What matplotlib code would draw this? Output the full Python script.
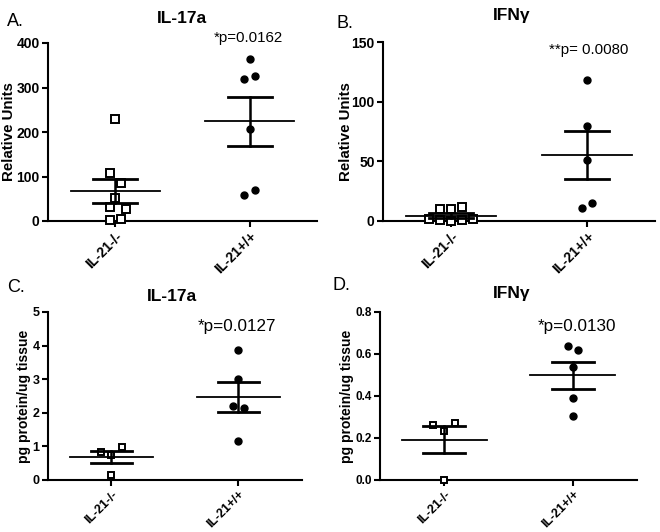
import numpy as np
import matplotlib
matplotlib.use("Agg")
import matplotlib.pyplot as plt

plt.rcParams['font.family'] = ['Liberation Sans', 'DejaVu Sans']

groups = ["IL-21-/-", "IL-21+/+"]

# Panel A: IL-17a, Relative Units
a_ko = [229, 107, 85, 52, 31, 27, 2, 4.5]
a_wt = [364, 320, 326, 206, 58, 70]
# Panel B: IFNγ, Relative Units
b_ko = [10, 10, 12, 1.5, 0.6, 0.3, 0.8, 1.5]
b_wt = [118, 80, 51.5, 10.5, 15.5]
# Panel C: IL-17a, pg protein/ug tissue
c_ko = [0.82, 0.74, 0.98, 0.15]
c_wt = [3.87, 3.0, 2.2, 2.15, 1.16]
# Panel D: IFNγ, pg protein/ug tissue
d_ko = [0.262, 0.235, 0.27, 0.0]
d_wt = [0.64, 0.619, 0.537, 0.389, 0.306]

# horizontal scatter offsets (jitter) per point
a_ko_dx = [0, -0.037, 0.042, 0, -0.037, 0.082, -0.037, 0.042]
a_wt_dx = [0, -0.04, 0.042, 0, -0.04, 0.042]
b_ko_dx = [-0.08, 0.0, 0.08, -0.16, -0.08, 0.0, 0.08, 0.16]
b_wt_dx = [0, 0, 0, -0.04, 0.04]
c_ko_dx = [-0.08, 0.0, 0.085, 0.0]
c_wt_dx = [0, 0, -0.04, 0.04, 0]
d_ko_dx = [-0.085, 0.0, 0.084, 0.0]
d_wt_dx = [-0.04, 0.04, 0, 0, 0]

titles = ["IL-17a", "IFNγ", "IL-17a", "IFNγ"]
letters = ["A.", "B.", "C.", "D."]
ylabels = ["Relative Units", "Relative Units", "pg protein/ug tissue", "pg protein/ug tissue"]
pvals = ["*p=0.0162", "**p= 0.0080", "*p=0.0127", "*p=0.0130"]
ylims = [(0, 400), (0, 150), (0, 5), (0, 0.8)]
yticks = [[0, 100, 200, 300, 400], [0, 50, 100, 150], [0, 1, 2, 3, 4, 5], [0.0, 0.2, 0.4, 0.6, 0.8]]
yticklabels = [["0", "100", "200", "300", "400"], ["0", "50", "100", "150"],
               ["0", "1", "2", "3", "4", "5"], ["0.0", "0.2", "0.4", "0.6", "0.8"]]

fig = plt.figure(figsize=(6.6, 5.32), dpi=100)
W, H = 660, 532

def px_axes(l, t, r, b):
    return fig.add_axes([l / W, 1 - b / H, (r - l) / W, (b - t) / H])

axes = [px_axes(48, 43, 317, 221), px_axes(383, 42, 655, 221),
        px_axes(48, 312, 302, 480), px_axes(380, 312, 637, 480)]

data = [(a_ko, a_wt, a_ko_dx, a_wt_dx), (b_ko, b_wt, b_ko_dx, b_wt_dx),
        (c_ko, c_wt, c_ko_dx, c_wt_dx), (d_ko, d_wt, d_ko_dx, d_wt_dx)]

sq_size = [6.0, 6.0, 5.0, 5.0]
dot_size = [5.0, 5.0, 5.0, 5.0]
title_pos = [(0.498, 1.14), (0.474, 1.15), (0.488, 1.09), (0.512, 1.111)]
title_fs = 12.5
p_pos = [(0.99, 1.028, 10.8), (1.01, 0.955, 10.8), (0.99, 0.9125, 12.3), (1.03, 0.9125, 12.3)]
ylab_x = [-0.145, -0.135, -0.095, -0.13]
ylab_fs = [10.8, 10.8, 10, 10]
ytick_fs = [10, 10, 9, 8.5]
xtick_fs = [10, 10, 9, 9]
letter_pos = [(7, 22), (337, 23), (7, 287), (333, 285)]

for i, ax in enumerate(axes):
    ko, wt, kdx, wdx = data[i]
    ax.plot(np.zeros(len(ko)) + np.array(kdx), ko, linestyle='none', marker='s',
            markersize=sq_size[i], markerfacecolor='white', markeredgecolor='black',
            markeredgewidth=1.4, zorder=3, clip_on=False)
    ax.plot(np.ones(len(wt)) + np.array(wdx), wt, linestyle='none', marker='o',
            markersize=dot_size[i], color='black', zorder=3, clip_on=False)
    for xc, vals in [(0, ko), (1, wt)]:
        v = np.array(vals, dtype=float)
        m = v.mean()
        sem = v.std(ddof=1) / np.sqrt(len(v))
        ax.plot([xc - 0.33, xc + 0.33], [m, m], color='black', lw=1.3, zorder=4)
        ax.plot([xc - 0.165, xc + 0.165], [m + sem, m + sem], color='black', lw=2.0, zorder=4)
        ax.plot([xc - 0.165, xc + 0.165], [m - sem, m - sem], color='black', lw=2.0, zorder=4)
        ax.plot([xc, xc], [m - sem, m + sem], color='black', lw=1.8, zorder=4)
    ax.set_xlim(-0.5, 1.5)
    ax.set_ylim(*ylims[i])
    ax.set_yticks(yticks[i])
    ax.set_yticklabels(yticklabels[i], fontsize=ytick_fs[i], fontweight='bold')
    ax.set_xticks([0, 1])
    ax.set_xticklabels(groups, rotation=45, ha='right', rotation_mode='anchor',
                       fontsize=xtick_fs[i], fontweight='bold')
    for s in ['top', 'right']:
        ax.spines[s].set_visible(False)
    for s in ['left', 'bottom']:
        ax.spines[s].set_linewidth(1.5)
    ax.tick_params(axis='both', direction='out', length=4, width=1.5, pad=2)
    ax.set_ylabel(ylabels[i], fontsize=ylab_fs[i], fontweight='bold', va='center')
    ax.yaxis.set_label_coords(ylab_x[i], 0.5)
    ax.text(title_pos[i][0], title_pos[i][1], titles[i], transform=ax.transAxes,
            ha='center', va='center', fontsize=title_fs, fontweight='bold')
    px, py, pf = p_pos[i]
    ax.text(px, py, pvals[i], transform=ax.get_xaxis_transform(), ha='center',
            va='center', fontsize=pf)
    lx, ly = letter_pos[i]
    fig.text(lx / W, 1 - ly / H, letters[i], ha='left', va='center', fontsize=13)

fig.savefig("out.png", dpi=100)
